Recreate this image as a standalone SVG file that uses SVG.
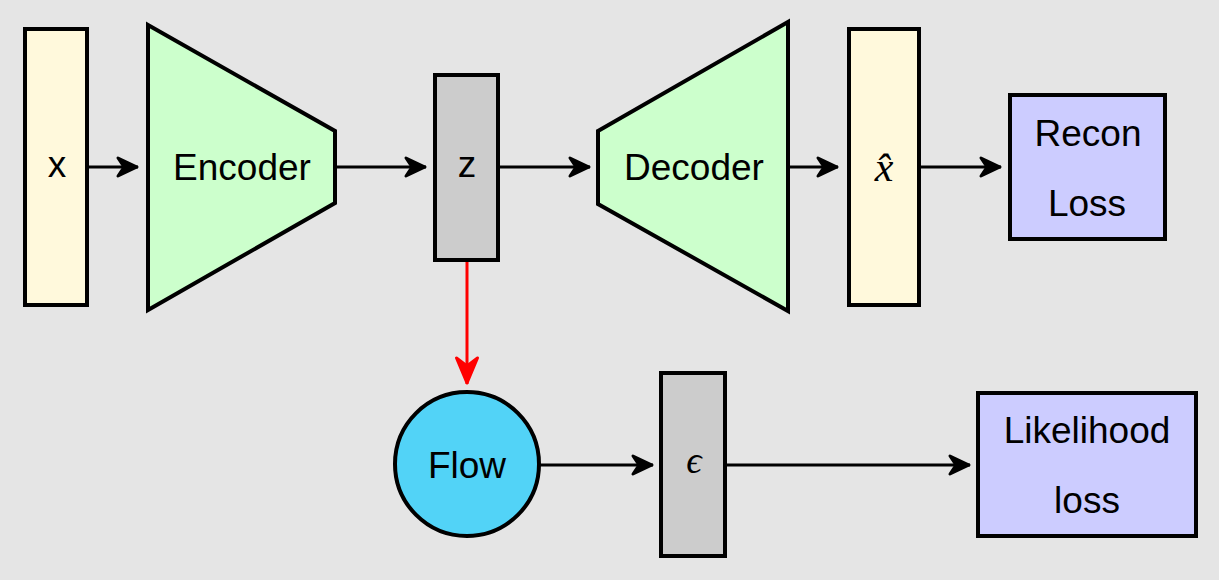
<svg xmlns="http://www.w3.org/2000/svg" width="1225" height="581" viewBox="0 0 1225 581">
<style>
.box{stroke:#000;stroke-width:4;stroke-linejoin:miter}
.lbl{font-family:"Liberation Sans",Arial,sans-serif;font-size:37px;fill:#000;text-anchor:middle}
.math{font-family:"Liberation Serif","Times New Roman",serif;font-style:italic;fill:#000;text-anchor:middle}
.conn{stroke:#000;stroke-width:3;fill:none}
</style>
<defs>
<marker id="ah" markerUnits="userSpaceOnUse" markerWidth="30" markerHeight="30" refX="0" refY="0" orient="auto" overflow="visible">
<path d="M-1,0 L-20,-9 L-14,0 L-20,9 Z" fill="#000" stroke="#000" stroke-width="3" stroke-linejoin="round"/>
</marker>
<marker id="ahr" markerUnits="userSpaceOnUse" markerWidth="30" markerHeight="30" refX="0" refY="0" orient="auto" overflow="visible">
<path d="M-1,0 L-26,-10.5 L-18,0 L-26,10.5 Z" fill="#ff0000" stroke="#ff0000" stroke-width="3" stroke-linejoin="round"/>
</marker>
</defs>
<rect x="0" y="0" width="1225" height="581" fill="#ffffff"/>
<rect x="0" y="0" width="1219" height="580" fill="#e5e5e5"/>
<g id="connectors">
<path class="conn" d="M89,167 L138,167" marker-end="url(#ah)"/>
<path class="conn" d="M337,167 L426,167" marker-end="url(#ah)"/>
<path class="conn" d="M500,167 L590,167" marker-end="url(#ah)"/>
<path class="conn" d="M790,167 L838,167" marker-end="url(#ah)"/>
<path class="conn" d="M921,167 L1001,167" marker-end="url(#ah)"/>
<path d="M467,262 L467,384" stroke="#ff0000" stroke-width="3" fill="none" marker-end="url(#ahr)"/>
<path class="conn" d="M540,465 L653,465" marker-end="url(#ah)"/>
<path class="conn" d="M727,465 L970,465" marker-end="url(#ah)"/>
</g>
<g id="node-x">
<rect class="box" x="25" y="29" width="62" height="276" fill="#fff9dc"/>
<text class="lbl" x="57" y="177">x</text>
</g>
<g id="node-encoder">
<polygon class="box" points="148,25 335,131 335,203 148,310" fill="#ccffcc"/>
<text class="lbl" x="242" y="180">Encoder</text>
</g>
<g id="node-z">
<rect class="box" x="435" y="75" width="63" height="185" fill="#cccccc"/>
<text class="lbl" x="467" y="177">z</text>
</g>
<g id="node-decoder">
<polygon class="box" points="598,131 788,22 788,311 598,204" fill="#ccffcc"/>
<text class="lbl" x="694" y="180">Decoder</text>
</g>
<g id="node-xhat">
<rect class="box" x="849" y="29" width="70" height="276" fill="#fff9dc"/>
<text class="math" x="884" y="181" font-size="42">x̂</text>
</g>
<g id="node-recon">
<rect class="box" x="1010" y="95" width="155" height="144" fill="#ccccff"/>
<text class="lbl" x="1088" y="146">Recon</text>
<text class="lbl" x="1087" y="216">Loss</text>
</g>
<g id="node-flow">
<circle class="box" cx="467" cy="464" r="72" fill="#52d3f7"/>
<text class="lbl" x="467" y="478">Flow</text>
</g>
<g id="node-eps">
<rect class="box" x="661" y="373" width="64" height="183" fill="#cccccc"/>
<text class="math" x="694" y="473" font-size="38">ϵ</text>
</g>
<g id="node-likelihood">
<rect class="box" x="978" y="393" width="218" height="143" fill="#ccccff"/>
<text class="lbl" x="1087" y="443">Likelihood</text>
<text class="lbl" x="1087" y="513">loss</text>
</g>
</svg>
